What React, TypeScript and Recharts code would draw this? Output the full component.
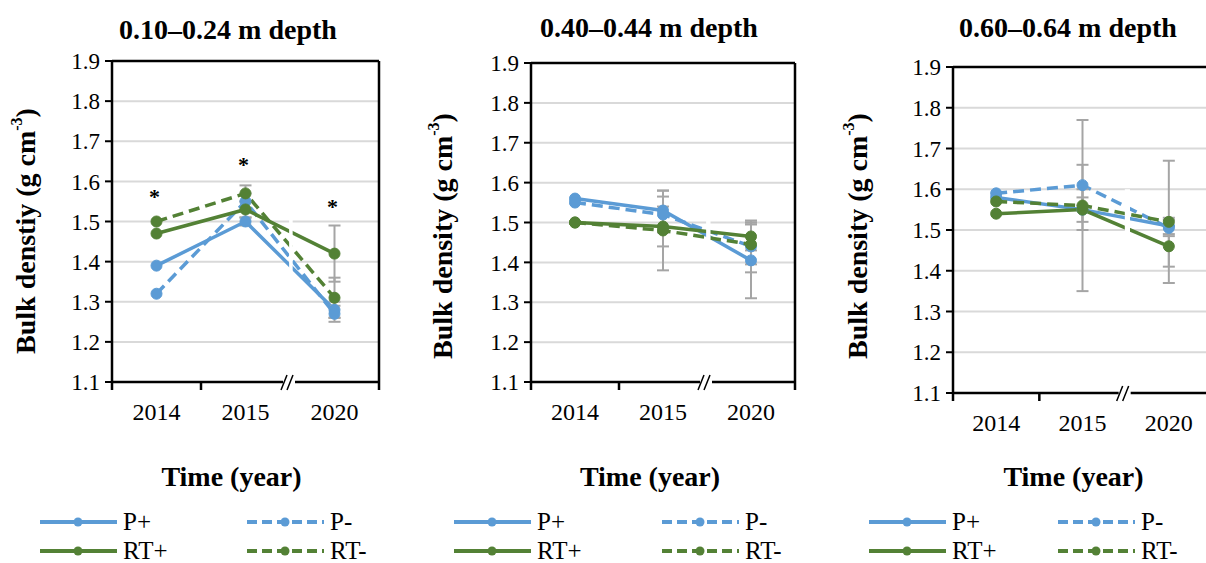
import React from "react";
import {
  ComposedChart,
  Line,
  XAxis,
  YAxis,
  CartesianGrid,
  ErrorBar,
  Legend,
  ReferenceLine,
  ReferenceArea,
} from "recharts";

const years = ["2014", "2015", "2020"];
const yTicks = [1.1, 1.2, 1.3, 1.4, 1.5, 1.6, 1.7, 1.8, 1.9];
const xTicks = [0, 0.5, 1, 1.5, 2, 2.5, 3];

// 0.10–0.24 m
const pPlus1 = [1.39, 1.5, 1.28];
const pPlus1Err = [null, 0.01, 0.02];
const pMinus1 = [1.32, 1.55, 1.27];
const pMinus1Err = [null, 0.02, 0.02];
const rtPlus1 = [1.47, 1.53, 1.42];
const rtPlus1Err = [null, 0.02, 0.07];
const rtMinus1 = [1.5, 1.57, 1.31];
const rtMinus1Err = [null, 0.02, 0.05];
const stars1 = [1.57, 1.65, 1.545];

// 0.40–0.44 m
const pPlus2 = [1.56, 1.53, 1.405];
const pPlus2Err = [null, 0.05, 0.095];
const pMinus2 = [1.55, 1.52, 1.44];
const pMinus2Err = [null, 0.045, 0.065];
const rtPlus2 = [1.5, 1.49, 1.465];
const rtPlus2Err = [null, 0.05, 0.035];
const rtMinus2 = [1.5, 1.48, 1.445];
const rtMinus2Err = [null, 0.1, 0.05];

// 0.60–0.64 m
const pPlus3 = [1.58, 1.55, 1.51];
const pPlus3Err = [null, 0.03, 0.02];
const pMinus3 = [1.59, 1.61, 1.505];
const pMinus3Err = [null, 0.05, 0.02];
const rtPlus3 = [1.54, 1.55, 1.46];
const rtPlus3Err = [null, 0.05, 0.05];
const rtMinus3 = [1.57, 1.56, 1.52];
const rtMinus3Err = [null, 0.21, 0.15];

const BLUE = "#5b9bd5";
const GREEN = "#538135";
const FONT = "Liberation Serif, Tinos, Times New Roman, DejaVu Serif, serif";

const series = [
  { key: "pPlus", name: "P+", color: BLUE, dash: undefined },
  { key: "pMinus", name: "P-", color: BLUE, dash: "11 6" },
  { key: "rtPlus", name: "RT+", color: GREEN, dash: undefined },
  { key: "rtMinus", name: "RT-", color: GREEN, dash: "11 6" },
];

const buildRows = (
  pp: any[], ppE: any[], pm: any[], pmE: any[],
  rp: any[], rpE: any[], rm: any[], rmE: any[], st?: number[]
) =>
  years.map((year, i) => ({
    x: i + 0.5,
    year,
    pPlus: pp[i],
    pPlusErr: ppE[i],
    pMinus: pm[i],
    pMinusErr: pmE[i],
    rtPlus: rp[i],
    rtPlusErr: rpE[i],
    rtMinus: rm[i],
    rtMinusErr: rmE[i],
    star: st ? st[i] : null,
  }));

const YearTick = ({ x, y, payload }: any) => {
  const v = payload.value;
  if (Number.isInteger(v)) {
    if (v === 2) {
      return (
        <g>
          <rect x={x - 7} y={y - 4} width={12} height={8} fill="#fff" />
          <line x1={x - 9} y1={y + 8} x2={x - 3} y2={y - 7} stroke="#000" strokeWidth={1.5} />
          <line x1={x - 3} y1={y + 8} x2={x + 3} y2={y - 7} stroke="#000" strokeWidth={1.5} />
        </g>
      );
    }
    return <line x1={x} y1={y} x2={x} y2={y + 8} stroke="#000" strokeWidth={2.5} />;
  }
  return (
    <text x={x} y={y + 38} textAnchor="middle" fontSize={24} fontFamily={FONT} fill="#000">
      {years[Math.floor(v)]}
    </text>
  );
};

const renderStar = (props: any) => {
  const { cx, cy, index } = props;
  if (cx == null || cy == null) return <g key={`s${index}`} />;
  return (
    <text key={`s${index}`} x={cx - 2} y={cy + 11} textAnchor="middle" fontSize={22} fontWeight="bold" fontFamily={FONT} fill="#000">
      *
    </text>
  );
};

const makeYTitle = (text: string, cx: number, cy: number) => () => (
  <text
    x={cx}
    y={cy}
    transform={`rotate(-90 ${cx} ${cy})`}
    textAnchor="middle"
    dominantBaseline="central"
    fontSize={28}
    fontWeight="bold"
    fontFamily={FONT}
    fill="#000"
  >
    {text}
    <tspan dy={-9} fontSize={16}>-3</tspan>
    <tspan dy={9}>)</tspan>
  </text>
);

const makeLegend = (cols: number[]) => ({ payload }: any) => (
  <div style={{ position: "relative", width: "100%", height: 58 }}>
    {(payload || [])
      .filter((p: any) => series.some((s) => s.name === p.value))
      .map((p: any, i: number) => {
        const s = series.find((q) => q.name === p.value)!;
        const top = i < 2 ? 17 : 46;
        return (
          <div
            key={p.value}
            style={{ position: "absolute", left: cols[i % 2], top: top - 13, height: 26, display: "flex", alignItems: "center" }}
          >
            <svg width={77} height={12}>
              <line x1={0} y1={6} x2={77} y2={6} stroke={s.color} strokeWidth={4} strokeDasharray={s.dash ? "10 5" : undefined} />
              <circle cx={38} cy={6} r={4.5} fill={s.color} />
            </svg>
            <span style={{ marginLeft: 6, fontSize: 25, lineHeight: "26px", fontFamily: FONT, color: "#000" }}>{p.value}</span>
          </div>
        );
      })}
  </div>
);

const Panel = ({ cfg }: any) => (
  <div style={{ position: "absolute", left: cfg.left, top: 0, width: cfg.width, height: 563 }}>
    <div
      style={{
        position: "absolute", left: cfg.titleX - 200, top: cfg.titleY - 14, width: 400, textAlign: "center",
        fontFamily: FONT, fontWeight: "bold", fontSize: 28, lineHeight: "28px", color: "#000",
      }}
    >
      {cfg.title}
    </div>
    <ComposedChart width={cfg.width} height={563} data={cfg.rows} margin={cfg.margin}>
      <CartesianGrid vertical={false} stroke="#d9d9d9" strokeWidth={2} />
      <XAxis
        dataKey="x"
        type="number"
        domain={[0, 3]}
        ticks={xTicks}
        interval={0}
        tick={<YearTick />}
        tickLine={false}
        tickSize={0}
        tickMargin={0}
        height={cfg.xAxisHeight}
        axisLine={{ stroke: "#000", strokeWidth: 2.5 }}
        label={{ value: "Time (year)", position: "insideBottom", offset: 19, dx: cfg.xTitleDx, fontSize: 28, fontWeight: "bold", fontFamily: FONT, fill: "#000" }}
      />
      <YAxis
        type="number"
        domain={[1.1, 1.9]}
        ticks={yTicks}
        interval={0}
        width={cfg.yAxisWidth}
        tickFormatter={(v: number) => v.toFixed(1)}
        tick={{ fontSize: 23, fontFamily: FONT, fill: "#000" }}
        tickSize={7}
        tickMargin={5}
        tickLine={{ stroke: "#000", strokeWidth: 2 }}
        axisLine={{ stroke: "#000", strokeWidth: 2.5 }}
        label={{ content: makeYTitle(cfg.yTitle, cfg.yTitleX, cfg.yTitleY) }}
      />
      <ReferenceLine y={1.9} stroke="#000" strokeWidth={2.5} />
      <ReferenceLine x={3} stroke="#000" strokeWidth={2.5} />
      <Legend verticalAlign="bottom" height={58} content={makeLegend(cfg.legendCols)} wrapperStyle={{ left: 0, bottom: 0, width: cfg.width }} />
      {series.map((s) => (
        <Line
          key={s.key}
          type="linear"
          dataKey={s.key}
          name={s.name}
          stroke={s.color}
          strokeWidth={3.5}
          strokeDasharray={s.dash}
          dot={{ r: 5.5, fill: s.color, stroke: s.color, strokeWidth: 1, strokeDasharray: "" }}
          activeDot={false}
          isAnimationActive={false}
        >
          <ErrorBar dataKey={`${s.key}Err`} width={6} stroke="#a5a5a5" strokeWidth={2} direction="y" />
        </Line>
      ))}
      {cfg.stars && (
        <Line dataKey="star" stroke="none" legendType="none" dot={renderStar} activeDot={false} isAnimationActive={false} />
      )}
      <ReferenceArea
        x1={cfg.gap[0]}
        x2={cfg.gap[1]}
        y1={cfg.gap[2]}
        y2={cfg.gap[3]}
        fill="#fff"
        fillOpacity={1}
        stroke="none"
        zIndex={1000}
      />
    </ComposedChart>
  </div>
);

const panels = [
  {
    title: "0.10–0.24 m depth",
    titleX: 228,
    titleY: 30,
    left: 0,
    width: 400,
    margin: { top: 61, right: 21, bottom: 0, left: 0 },
    yAxisWidth: 112,
    xAxisHeight: 123,
    xTitleDx: -14,
    yTitle: "Bulk denstiy (g cm",
    yTitleX: 25,
    yTitleY: 231,
    legendCols: [40, 247],
    rows: buildRows(pPlus1, pPlus1Err, pMinus1, pMinus1Err, rtPlus1, rtPlus1Err, rtMinus1, rtMinus1Err, stars1),
    stars: true,
    gap: [1.99, 2.03, 1.35, 1.52],
  },
  {
    title: "0.40–0.44 m depth",
    titleX: 249,
    titleY: 28,
    left: 400,
    width: 400,
    margin: { top: 63, right: 5, bottom: 0, left: 0 },
    yAxisWidth: 131,
    xAxisHeight: 123,
    xTitleDx: -13,
    yTitle: "Bulk density (g cm",
    yTitleX: 42,
    yTitleY: 236,
    legendCols: [54, 262],
    rows: buildRows(pPlus2, pPlus2Err, pMinus2, pMinus2Err, rtPlus2, rtPlus2Err, rtMinus2, rtMinus2Err),
    stars: false,
    gap: [1.99, 2.04, 1.44, 1.51],
  },
  {
    title: "0.60–0.64 m depth",
    titleX: 268,
    titleY: 28,
    left: 800,
    width: 420,
    margin: { top: 67, right: 8, bottom: 0, left: 0 },
    yAxisWidth: 153,
    xAxisHeight: 112,
    xTitleDx: -9,
    yTitle: "Bulk density (g cm",
    yTitleX: 57,
    yTitleY: 236,
    legendCols: [69, 258],
    rows: buildRows(pPlus3, pPlus3Err, pMinus3, pMinus3Err, rtPlus3, rtPlus3Err, rtMinus3, rtMinus3Err),
    stars: false,
    gap: [1.99, 2.05, 1.47, 1.6],
  },
];

export default function App() {
  return (
    <div style={{ position: "absolute", left: 0, top: 0, width: 1206, height: 563, overflow: "hidden", background: "#fff" }}>
      {panels.map((p) => (
        <Panel key={p.title} cfg={p} />
      ))}
    </div>
  );
}
